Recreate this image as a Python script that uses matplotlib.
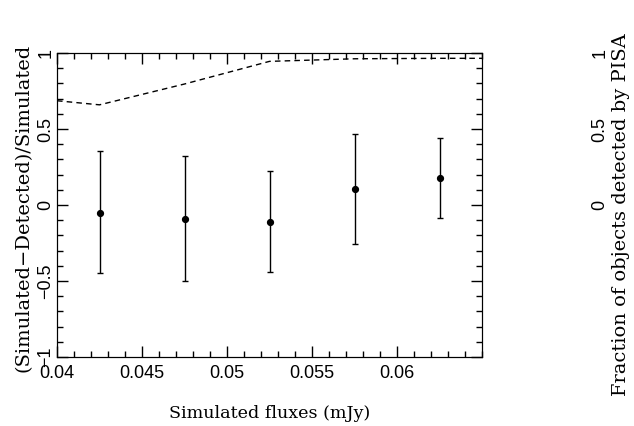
import numpy as np
import matplotlib.pyplot as plt
from matplotlib.ticker import MultipleLocator, FixedLocator

plt.rcParams['font.family'] = 'DejaVu Serif'

flux = [0.0425, 0.0475, 0.0525, 0.0575, 0.0625]
ratio = [-0.05, -0.09, -0.11, 0.105, 0.178]
err_hi = [0.353, 0.32, 0.221, 0.469, 0.443]
err_lo = [-0.45, -0.503, -0.443, -0.257, -0.086]

frac_x = [0.04, 0.0425, 0.0475, 0.0525, 0.0575, 0.0625, 0.065]
frac_y = [0.686, 0.659, 0.796, 0.945, 0.962, 0.965, 0.965]

xticks = [0.04, 0.045, 0.05, 0.055, 0.06]
xlabels = ['0.04', '0.045', '0.05', '0.055', '0.06']
yticks = [-1, -0.5, 0, 0.5, 1]
ylabels_left = ['\u22121', '\u22120.5', '0', '0.5', '1']
ylabels_right = ['', '', '0', '0.5', '1']

tickfont = {'family': 'Liberation Sans', 'size': 13}

fig = plt.figure(figsize=(6.34, 4.26), dpi=100)
ax = fig.add_axes([57/634, 1-357/426, 425/634, 304/426])

yerr = np.array([np.array(ratio) - np.array(err_lo), np.array(err_hi) - np.array(ratio)])
ax.errorbar(flux, ratio, yerr=yerr, fmt='o', color='black', ms=4.2,
            elinewidth=1.0, capsize=2.0, capthick=1.0)
ax.plot(frac_x, frac_y, color='black', ls=(0, (4, 3)), lw=1.0)

ax.set_xlim(0.04, 0.065)
ax.set_ylim(-1, 1)
ax.xaxis.set_minor_locator(MultipleLocator(0.001))
ax.yaxis.set_minor_locator(MultipleLocator(0.1))
ax.set_xticks(xticks)
ax.set_xticklabels(xlabels, fontdict=tickfont)
ax.set_yticks(yticks)
ax.set_yticklabels(ylabels_left, fontdict=tickfont, rotation=90, va='center')
ax.tick_params(which='both', direction='in', top=True, right=True)
ax.tick_params(which='major', length=8, width=1)
ax.tick_params(which='minor', length=4, width=1)
ax.tick_params(axis='y', pad=2)
ax.tick_params(axis='x', pad=6)

ax2 = ax.twinx()
ax2.set_ylim(-1, 1)
ax2.yaxis.set_major_locator(FixedLocator(yticks))
ax2.yaxis.set_minor_locator(MultipleLocator(0.1))
ax2.set_yticklabels(ylabels_right, fontdict=tickfont, rotation=90, va='center')
ax2.tick_params(which='both', direction='in', pad=79)
ax2.tick_params(which='major', length=8, width=1)
ax2.tick_params(which='minor', length=4, width=1)

ax.set_xlabel('Simulated fluxes (mJy)', fontsize=12.6)
ax.xaxis.set_label_coords(0.501, -0.185)
ax.xaxis.label.set_va('center')

ax.set_ylabel('(Simulated\u2212Detected)/Simulated', fontsize=14)
ax.yaxis.set_label_coords(-0.078, 0.492)
ax.yaxis.label.set_va('center')

ax2.set_ylabel('Fraction of objects detected by PISA', fontsize=14)
ax2.yaxis.set_label_coords(1.328, 0.469)
ax2.yaxis.label.set_va('center')

fig.savefig('out.png', dpi=100)
